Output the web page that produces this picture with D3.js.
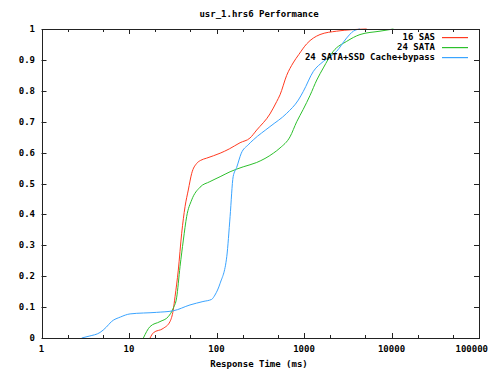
<!DOCTYPE html>
<html>
<head>
<meta charset="utf-8">
<script src="https://cdn.jsdelivr.net/npm/d3@7"></script>
<style>
  html, body { margin: 0; padding: 0; background: #fff; }
  svg text { font-family: "DejaVu Sans Mono", "Liberation Mono", monospace; font-size: 9px; font-weight: bold; fill: #000; }
</style>
</head>
<body>
<svg id="chart" width="489" height="370"></svg>
<script>
// Cumulative distribution of response times, one [ms, fraction] list per configuration.
const seriesNames = ["16 SAS", "24 SATA", "24 SATA+SSD Cache+bypass"];
const seriesColors = ["#ff3a20", "#2cc02c", "#3aa4ff"];

const sas16 = [
  [17.4, 0], [19, 0.017], [24.6, 0.031], [29.4, 0.053], [32, 0.09], [33.6, 0.134],
  [36.6, 0.22], [40, 0.339], [43.7, 0.425], [47.6, 0.479], [52.1, 0.533], [59.4, 0.565],
  [66, 0.575], [77, 0.582], [110, 0.598], [140, 0.612], [186, 0.632], [241, 0.647],
  [288, 0.673], [408, 0.725], [487, 0.765], [532, 0.787], [634, 0.85], [750, 0.89],
  [870, 0.917], [1074, 0.952], [1524, 0.982], [2365, 0.993], [5200, 1]
];

const sata24 = [
  [14.6, 0], [17.4, 0.037], [22.6, 0.053], [28.1, 0.069], [32, 0.096], [35, 0.13],
  [38.3, 0.231], [41.8, 0.317], [45.6, 0.393], [52.1, 0.447], [64.8, 0.488], [84, 0.506],
  [110, 0.522], [143, 0.538], [202, 0.554], [288, 0.568], [446, 0.598], [532, 0.615],
  [692, 0.651], [826, 0.70], [980, 0.74], [1172, 0.785], [1400, 0.835], [1663, 0.874],
  [2163, 0.928], [3075, 0.96], [4365, 0.982], [7390, 0.993], [10500, 1]
];

const ssdCache = [
  [2.88, 0], [3.5, 0.006], [4.67, 0.018], [5.5, 0.035], [6.3, 0.053], [8, 0.068],
  [10.3, 0.078], [20.7, 0.083], [32, 0.088], [49.8, 0.107], [70, 0.118], [88, 0.125],
  [96, 0.139], [110, 0.177], [131, 0.263], [143, 0.393], [155, 0.522], [170, 0.552],
  [192, 0.598], [230, 0.625], [263, 0.641], [408, 0.684], [634, 0.727], [861, 0.77],
  [982, 0.798], [1280, 0.863], [1663, 0.895], [2365, 0.928], [3075, 0.971], [3665, 0.993],
  [4365, 1]
];

const allSeries = [sas16, sata24, ssdCache];

const xTickValues = [1, 10, 100, 1000, 10000, 100000];
const xTickLabels = ["1", "10", "100", "1000", "10000", "100000"];
const xMinorTicks = [2, 5, 20, 50, 200, 500, 2000, 5000, 20000, 50000];
const yTickValues = [0, 0.1, 0.2, 0.3, 0.4, 0.5, 0.6, 0.7, 0.8, 0.9, 1];
const yTickLabels = ["0", "0.1", "0.2", "0.3", "0.4", "0.5", "0.6", "0.7", "0.8", "0.9", "1"];

const chartTitle = "usr_1.hrs6 Performance";
const xTitle = "Response Time (ms)";

const svg = d3.select("#chart");
const width = +svg.attr("width");
const plotLeft = 41.5, plotRight = 479, plotTop = 29, plotBottom = 338;

const x = d3.scaleLog().domain([1, 100000]).range([plotLeft, plotRight]);
const y = d3.scaleLinear().domain([0, 1]).range([plotBottom, plotTop]);

const axisColor = "#222";

// Tick marks on all four sides, pointing into the plot
const ticks = svg.append("g").attr("stroke", axisColor).attr("stroke-width", 1);
xTickValues.forEach(v => {
  const px = Math.round(x(v)) + 0.5;
  ticks.append("line").attr("x1", px).attr("x2", px).attr("y1", plotBottom).attr("y2", plotBottom - 5);
  ticks.append("line").attr("x1", px).attr("x2", px).attr("y1", plotTop).attr("y2", plotTop + 5);
});
xMinorTicks.forEach(v => {
  const px = Math.round(x(v)) + 0.5;
  ticks.append("line").attr("x1", px).attr("x2", px).attr("y1", plotBottom).attr("y2", plotBottom - 3);
  ticks.append("line").attr("x1", px).attr("x2", px).attr("y1", plotTop).attr("y2", plotTop + 3);
});
yTickValues.forEach(v => {
  const py = Math.round(y(v)) + 0.5;
  ticks.append("line").attr("x1", plotLeft).attr("x2", plotLeft + 5).attr("y1", py).attr("y2", py);
  ticks.append("line").attr("x1", plotRight).attr("x2", plotRight - 5).attr("y1", py).attr("y2", py);
});

// Tick labels (the last one is kept inside the page edge)
xTickValues.forEach((v, i) => {
  const t = svg.append("text").attr("y", 352).text(xTickLabels[i]);
  const half = t.node().getComputedTextLength() / 2;
  if (x(v) + half > width - 1) {
    t.attr("x", width - 1).attr("text-anchor", "end");
  } else {
    t.attr("x", x(v)).attr("text-anchor", "middle");
  }
});
yTickValues.forEach((v, i) => {
  svg.append("text").attr("x", 35).attr("y", y(v) + 3).attr("text-anchor", "end").text(yTickLabels[i]);
});

// Data lines
const line = d3.line()
  .x(d => x(d[0]))
  .y(d => y(d[1]))
  .curve(d3.curveMonotoneX);

allSeries.forEach((data, i) => {
  svg.append("path")
    .datum(data)
    .attr("fill", "none")
    .attr("stroke", seriesColors[i])
    .attr("stroke-width", 1)
    .attr("d", line);
});

// Plot border
svg.append("rect")
  .attr("x", Math.round(plotLeft) + 0.5).attr("y", plotTop + 0.5)
  .attr("width", Math.round(plotRight) - Math.round(plotLeft)).attr("height", plotBottom - plotTop)
  .attr("fill", "none").attr("stroke", axisColor).attr("stroke-width", 1);

// Legend
seriesNames.forEach((name, i) => {
  const ly = 37 + i * 10;
  svg.append("text").attr("x", 435).attr("y", ly + 3).attr("text-anchor", "end").text(name);
  svg.append("rect")
    .attr("x", 442).attr("y", ly)
    .attr("width", 26).attr("height", 1.2)
    .attr("fill", seriesColors[i]);
});

// Titles
svg.append("text").attr("x", 259).attr("y", 17).attr("text-anchor", "middle").text(chartTitle);
svg.append("text").attr("x", 259).attr("y", 367).attr("text-anchor", "middle").text(xTitle);
</script>
</body>
</html>
